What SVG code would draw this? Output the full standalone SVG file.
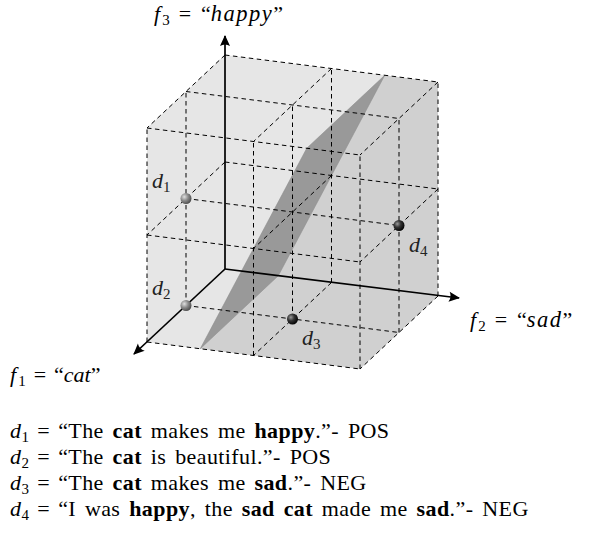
<svg xmlns="http://www.w3.org/2000/svg" width="612" height="545" viewBox="0 0 612 545">
<style>
.grid line{stroke:#000;stroke-width:1;stroke-dasharray:4.5 3.5;fill:none}
.axis{stroke:#000;stroke-width:1.7;fill:none;marker-end:url(#arr)}
.t{font-family:"Liberation Serif","DejaVu Serif",serif;font-size:22px;fill:#000}
.sent{word-spacing:3px;letter-spacing:0.4px}
.m{font-style:italic}
.w{font-style:italic;font-size:22.5px;letter-spacing:1.5px}
.s{font-size:15px;font-style:normal}
.b{font-weight:bold}
.lbl{font-family:"Liberation Serif","DejaVu Serif",serif;font-size:22px;fill:#222;font-style:italic}
</style>
<defs>
<marker id="arr" markerUnits="userSpaceOnUse" markerWidth="14" markerHeight="12" viewBox="-11 -6 13 12" refX="0" refY="0" orient="auto">
<path d="M1,0 L-10,-5 Q-7,0 -10,5 Z" fill="#000"/>
</marker>
<radialGradient id="gl" cx="0.35" cy="0.35" r="0.7">
<stop offset="0" stop-color="#e0e0e0"/>
<stop offset="0.5" stop-color="#8a8a8a"/>
<stop offset="1" stop-color="#4a4a4a"/>
</radialGradient>
<radialGradient id="gd" cx="0.35" cy="0.35" r="0.7">
<stop offset="0" stop-color="#9a9a9a"/>
<stop offset="0.45" stop-color="#333"/>
<stop offset="1" stop-color="#000"/>
</radialGradient>
</defs>

<g id="cube">
<polygon points="225,55 384.75,75.25 306.75,148.25 200.25,348.75 147,342 147,128" fill="#e6e6e6"/>
<polygon points="384.75,75.25 438,82 438,296 360,369 200.25,348.75 306.75,148.25" fill="#d0d0d0"/>
</g>
<g id="plane">
<polygon points="384.75,75.25 306.75,148.25 200.25,348.75 278.25,275.75" fill="#999" stroke="#8f8f8f" stroke-width="0.6"/>
</g>

<g id="grid" class="grid">
<line x1="225" y1="162" x2="147" y2="235"/>
<line x1="225" y1="55" x2="147" y2="128"/>
<line x1="331.5" y1="282.5" x2="253.5" y2="355.5"/>
<line x1="331.5" y1="175.5" x2="253.5" y2="248.5"/>
<line x1="331.5" y1="68.5" x2="253.5" y2="141.5"/>
<line x1="438" y1="296" x2="360" y2="369"/>
<line x1="438" y1="189" x2="360" y2="262"/>
<line x1="438" y1="82" x2="360" y2="155"/>
<line x1="225" y1="162" x2="438" y2="189"/>
<line x1="225" y1="55" x2="438" y2="82"/>
<line x1="186" y1="305.5" x2="399" y2="332.5"/>
<line x1="186" y1="198.5" x2="399" y2="225.5"/>
<line x1="186" y1="91.5" x2="399" y2="118.5"/>
<line x1="147" y1="342" x2="360" y2="369"/>
<line x1="147" y1="235" x2="360" y2="262"/>
<line x1="147" y1="128" x2="360" y2="155"/>
<line x1="186" y1="305.5" x2="186" y2="91.5"/>
<line x1="147" y1="342" x2="147" y2="128"/>
<line x1="331.5" y1="282.5" x2="331.5" y2="68.5"/>
<line x1="292.5" y1="319" x2="292.5" y2="105"/>
<line x1="253.5" y1="355.5" x2="253.5" y2="141.5"/>
<line x1="438" y1="296" x2="438" y2="82"/>
<line x1="399" y1="332.5" x2="399" y2="118.5"/>
<line x1="360" y1="369" x2="360" y2="155"/>
</g>

<g id="axes">
<line class="axis" x1="225" y1="269" x2="225" y2="36"/>
<line class="axis" x1="225" y1="269" x2="459" y2="298"/>
<line class="axis" x1="225" y1="269" x2="134" y2="354"/>
</g>

<g id="d1"><circle cx="186" cy="198.5" r="5.5" fill="url(#gl)"/><text class="lbl" x="152" y="188">d<tspan class="s" dy="4">1</tspan></text></g>
<g id="d2"><circle cx="186" cy="305.5" r="5.5" fill="url(#gl)"/><text class="lbl" x="152" y="295">d<tspan class="s" dy="4">2</tspan></text></g>
<g id="d3"><circle cx="292.5" cy="319" r="5.5" fill="url(#gd)"/><text class="lbl" x="302" y="345">d<tspan class="s" dy="4">3</tspan></text></g>
<g id="d4"><circle cx="399" cy="225.5" r="5.5" fill="url(#gd)"/><text class="lbl" x="409" y="252">d<tspan class="s" dy="4">4</tspan></text></g>

<g id="f3-label"><text class="t" x="154" y="21"><tspan class="m">f</tspan><tspan class="s" dx="2" dy="4">3</tspan><tspan dy="-4" dx="9">=</tspan><tspan dx="10">“</tspan><tspan class="w">happy</tspan>”</text></g>
<g id="f2-label"><text class="t" x="470" y="327"><tspan class="m">f</tspan><tspan class="s" dx="2" dy="4">2</tspan><tspan dy="-4" dx="9">=</tspan><tspan dx="10">“</tspan><tspan class="w">sad</tspan>”</text></g>
<g id="f1-label"><text class="t" x="10" y="382"><tspan class="m">f</tspan><tspan class="s" dx="2" dy="4">1</tspan><tspan dy="-4" dx="8">=</tspan><tspan dx="8">“</tspan><tspan class="m">cat</tspan>”</text></g>

<g id="sentences">
<text class="t sent" x="10" y="438"><tspan class="m">d</tspan><tspan class="s" dy="4">1</tspan><tspan dy="-4" dx="8">=</tspan><tspan dx="8">“The </tspan><tspan class="b">cat</tspan> makes me <tspan class="b">happy</tspan>.”- POS</text>
<text class="t sent" x="10" y="464"><tspan class="m">d</tspan><tspan class="s" dy="4">2</tspan><tspan dy="-4" dx="8">=</tspan><tspan dx="8">“The </tspan><tspan class="b">cat</tspan> is beautiful.”- POS</text>
<text class="t sent" x="10" y="490"><tspan class="m">d</tspan><tspan class="s" dy="4">3</tspan><tspan dy="-4" dx="8">=</tspan><tspan dx="8">“The </tspan><tspan class="b">cat</tspan> makes me <tspan class="b">sad</tspan>.”- NEG</text>
<text class="t sent" x="10" y="516"><tspan class="m">d</tspan><tspan class="s" dy="4">4</tspan><tspan dy="-4" dx="8">=</tspan><tspan dx="8">“I was </tspan><tspan class="b">happy</tspan>, the <tspan class="b">sad cat</tspan> made me <tspan class="b">sad</tspan>.”- NEG</text>
</g>
</svg>
